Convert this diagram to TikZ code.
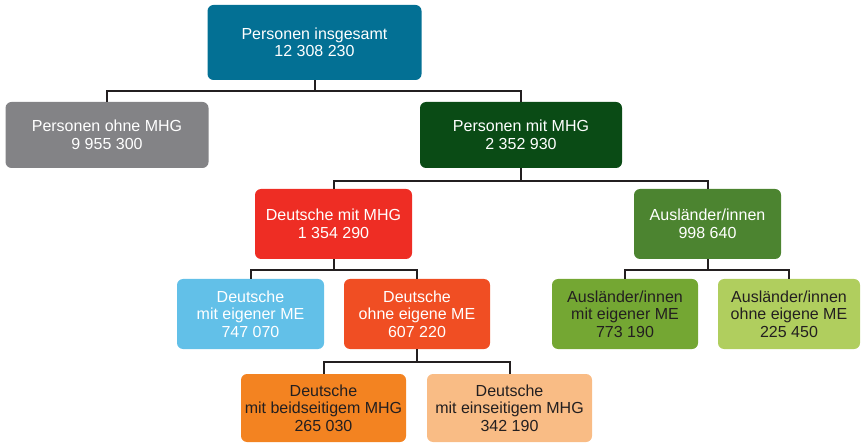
\documentclass[tikz,border=0pt]{standalone}
\usepackage{fontspec}
\setmainfont{Liberation Sans}
\definecolor{cTeal}{RGB}{3,112,148}
\definecolor{cGray}{RGB}{131,131,134}
\definecolor{cDkGreen}{RGB}{10,75,21}
\definecolor{cRed}{RGB}{238,45,36}
\definecolor{cGreen}{RGB}{76,132,48}
\definecolor{cLtBlue}{RGB}{98,192,232}
\definecolor{cOrRed}{RGB}{240,78,35}
\definecolor{cOlive}{RGB}{116,167,51}
\definecolor{cLtGreen}{RGB}{176,206,94}
\definecolor{cOrange}{RGB}{243,131,33}
\definecolor{cPeach}{RGB}{249,188,133}
\definecolor{cLine}{RGB}{35,31,32}
\begin{document}
\begin{tikzpicture}[x=1pt,y=-1pt,
  box/.style={rectangle,rounded corners=6pt,inner sep=0pt,align=center,
    font=\fontsize{16}{17.5}\selectfont,text=white},
  darktext/.style={text=cLine},
  conn/.style={draw=cLine,line width=2pt}]
\useasboundingbox (0,0) rectangle (861,443);
\node[box,fill=cTeal,minimum width=214pt,minimum height=75pt] (tot) at (314.5,42.5) {Personen insgesamt\\12 308 230};
\node[box,fill=cGray,minimum width=203pt,minimum height=66pt] (ohne) at (107,135) {Personen ohne MHG\\9 955 300};
\node[box,fill=cDkGreen,minimum width=202pt,minimum height=66pt] (mit) at (521,135) {Personen mit MHG\\2 352 930};
\node[box,fill=cRed,minimum width=157pt,minimum height=70pt] (dmit) at (333.5,224) {Deutsche mit MHG\\1 354 290};
\node[box,fill=cGreen,minimum width=147pt,minimum height=70pt] (aus) at (707.5,224) {Ausländer/innen\\998 640};
\node[box,fill=cLtBlue,minimum width=147pt,minimum height=70pt] (deig) at (250.5,314) {Deutsche\\mit eigener ME\\747 070};
\node[box,fill=cOrRed,minimum width=146pt,minimum height=70pt] (dohne) at (417,314) {Deutsche\\ohne eigene ME\\607 220};
\node[box,darktext,fill=cOlive,minimum width=146pt,minimum height=70pt] (aeig) at (625,314) {Ausländer/innen\\mit eigener ME\\773 190};
\node[box,darktext,fill=cLtGreen,minimum width=142pt,minimum height=70pt] (aohne) at (789,314) {Ausländer/innen\\ohne eigene ME\\225 450};
\node[box,darktext,fill=cOrange,minimum width=165pt,minimum height=68pt] (beid) at (323.5,408) {Deutsche\\mit beidseitigem MHG\\265 030};
\node[box,darktext,fill=cPeach,minimum width=165pt,minimum height=68pt] (eins) at (509.5,408) {Deutsche\\mit einseitigem MHG\\342 190};
\draw[conn] (tot.south) -- ++(0,11) -| (ohne.north);
\draw[conn] (tot.south) -- ++(0,11) -| (mit.north);
\draw[conn] (mit.south) -- ++(0,13) -| (dmit.north);
\draw[conn] (mit.south) -- ++(0,13) -| (aus.north);
\draw[conn] (dmit.south) -- ++(0,11) -| (deig.north);
\draw[conn] (dmit.south) -- ++(0,11) -| (dohne.north);
\draw[conn] (aus.south) -- ++(0,11) -| (aeig.north);
\draw[conn] (aus.south) -- ++(0,11) -| (aohne.north);
\draw[conn] (dohne.south) -- ++(0,13) -| (beid.north);
\draw[conn] (dohne.south) -- ++(0,13) -| (eins.north);
\end{tikzpicture}
\end{document}
